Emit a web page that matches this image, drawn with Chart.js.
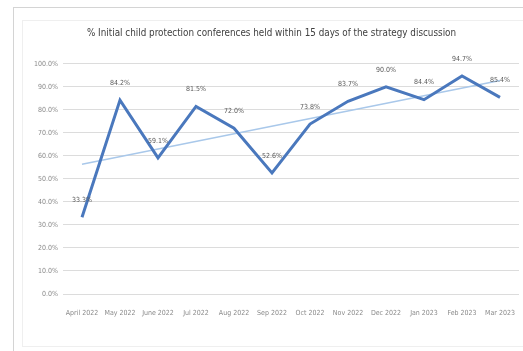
<!DOCTYPE html>
<html>
<head>
<meta charset="utf-8">
<script src="https://cdn.jsdelivr.net/npm/chart.js@4.4.0/dist/chart.umd.min.js"></script>
<style>
	body { margin: 0; background: #fff; overflow: hidden; }
	#frame { position: absolute; left: 13px; top: 7px; width: 700px; height: 500px; border: 1px solid #d4d4d4; }
	#inner { position: absolute; left: 22px; top: 20px; width: 700px; height: 325px; border: 1px solid #efefef; }
	#wrap { position: absolute; left: 0; top: 0; width: 523px; height: 351px; }
</style>
</head>
<body>
<div id="frame"></div>
<div id="inner"></div>
<div id="wrap"><canvas id="chart-area"></canvas></div>
<script>
var chartTitle = '% Initial child protection conferences held within 15 days of the strategy discussion';
var months = ['April 2022', 'May 2022', 'June 2022', 'Jul 2022', 'Aug 2022', 'Sep 2022', 'Oct 2022', 'Nov 2022', 'Dec 2022', 'Jan 2023', 'Feb 2023', 'Mar 2023'];
var pctHeld = [33.3, 84.2, 59.1, 81.5, 72.0, 52.6, 73.8, 83.7, 90.0, 84.4, 94.7, 85.4];
// linear trend, start and end values
var trendEnds = [56.4, 92.7];

var narrow = "'DejaVu Sans Condensed', 'Liberation Sans Narrow', sans-serif";

// trend only has values at first and last month, spanGaps joins them
var trendLine = months.map(function(m, i){
	if (i === 0) return trendEnds[0];
	if (i === months.length - 1) return trendEnds[1];
	return null;
});

// value labels above each point
var pointLabels = {
	id: 'pointLabels',
	afterDatasetsDraw: function(chart){
		var ctx = chart.ctx;
		var meta = chart.getDatasetMeta(0);
		ctx.save();
		ctx.font = '7px ' + narrow;
		ctx.fillStyle = '#595959';
		ctx.textAlign = 'center';
		ctx.textBaseline = 'middle';
		meta.data.forEach(function(pt, i){
			ctx.fillText(pctHeld[i].toFixed(1) + '%', pt.x, pt.y - 17);
		});
		ctx.restore();
	}
};

var config = {
	type: 'line',
	data: {
		labels: months,
		datasets: [{
			data: pctHeld,
			borderColor: '#4a78bd',
			borderWidth: 3,
			pointRadius: 0,
			tension: 0,
			order: 0
		}, {
			data: trendLine,
			spanGaps: true,
			borderColor: '#a9c8ea',
			borderWidth: 1.5,
			pointRadius: 0,
			order: 1
		}]
	},
	options: {
		responsive: false,
		animation: false,
		layout: { padding: { left: 24, right: 4, top: 0, bottom: 27 } },
		plugins: {
			legend: { display: false },
			tooltip: { enabled: false },
			title: {
				display: true,
				text: chartTitle,
				color: '#404040',
				font: { family: narrow, size: 9.8, weight: 'normal' },
				padding: { top: 28, bottom: 24 }
			}
		},
		scales: {
			x: {
				offset: true,
				grid: { display: false },
				border: { display: false },
				ticks: { color: '#8a8a8a', font: { family: narrow, size: 7 }, maxRotation: 0, autoSkip: false, padding: 7 },
				afterFit: function(s){ s.height = 30; }
			},
			y: {
				min: 0,
				max: 100,
				grid: { color: '#dcdcdc', lineWidth: 1, drawTicks: false },
				border: { display: false },
				ticks: {
					stepSize: 10,
					color: '#8a8a8a',
					padding: 5,
					font: { family: narrow, size: 7 },
					callback: function(v){ return v.toFixed(1) + '%'; }
				},
				afterFit: function(s){ s.width = 39; }
			}
		}
	},
	plugins: [pointLabels]
};

var cv = document.getElementById('chart-area');
cv.width = 523;
cv.height = 351;
window.myLine = new Chart(cv.getContext('2d'), config);
</script>
</body>
</html>
